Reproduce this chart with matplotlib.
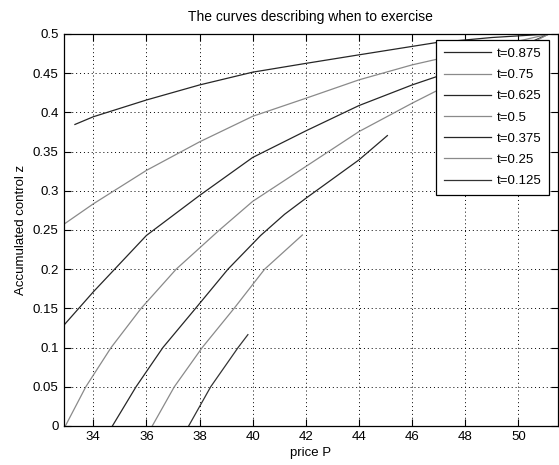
import matplotlib
matplotlib.use("Agg")
from matplotlib import pyplot as plt

# curves (price P, accumulated control z)
p_875 = [33.31, 34, 36, 38, 40, 42, 44, 46.9, 49, 51.15]
z_875 = [0.3846, 0.3944, 0.4158, 0.435, 0.4513, 0.4625, 0.4734, 0.489, 0.4955, 0.5]

p_75 = [32.88, 34, 36, 38, 40, 42, 44, 46, 48, 49.5, 51.15]
z_75 = [0.257, 0.2833, 0.326, 0.3624, 0.395, 0.418, 0.4415, 0.4606, 0.476, 0.487, 0.5]

p_625 = [32.88, 34, 36, 38, 40, 42, 44, 46, 48, 49.5, 51.15]
z_625 = [0.128, 0.171, 0.243, 0.294, 0.3425, 0.3764, 0.4087, 0.435, 0.458, 0.475, 0.5]

p_5 = [32.95, 33.72, 34.67, 35.8, 37.12, 38.75, 40, 42, 44, 46, 48, 49.5, 51.15]
z_5 = [0, 0.05, 0.1, 0.15, 0.2, 0.25, 0.2865, 0.331, 0.3755, 0.4117, 0.446, 0.471, 0.5]

p_375 = [34.72, 35.61, 36.62, 37.85, 39.07, 40.3, 41.2, 42, 44, 45.07]
z_375 = [0, 0.05, 0.1, 0.15, 0.2, 0.243, 0.27, 0.2904, 0.3394, 0.3704]

p_25 = [36.22, 37.05, 38.1, 39.3, 40.45, 41.87]
z_25 = [0, 0.05, 0.1, 0.15, 0.2, 0.2436]

p_125 = [37.59, 38.42, 39.45, 39.82]
z_125 = [0, 0.05, 0.1, 0.1165]

labels = ["t=0.875", "t=0.75", "t=0.625", "t=0.5", "t=0.375", "t=0.25", "t=0.125"]
xs = [p_875, p_75, p_625, p_5, p_375, p_25, p_125]
zs = [z_875, z_75, z_625, z_5, z_375, z_25, z_125]
colors = ["#262626", "#8a8a8a", "#262626", "#8a8a8a", "#262626", "#8a8a8a", "#333333"]

plt.rcParams['font.family'] = ['Liberation Sans', 'DejaVu Sans']
plt.rcParams['font.size'] = 9.5

fig = plt.figure(figsize=(5.59, 4.65), dpi=100)
# right edge of the axes sits at the very edge of the picture
ax = fig.add_axes([0.1136, 0.0839, 0.885, 0.843])

for x, z, lab, c in zip(xs, zs, labels, colors):
    ax.plot(x, z, color=c, lw=0.9, label=lab)

ax.set_xlim(32.88, 51.5)
ax.set_ylim(0, 0.5)
ax.set_xticks([34, 36, 38, 40, 42, 44, 46, 48, 50])
yt = [0, 0.05, 0.1, 0.15, 0.2, 0.25, 0.3, 0.35, 0.4, 0.45, 0.5]
ax.set_yticks(yt)
ax.set_yticklabels(["%g" % v for v in yt])
ax.tick_params(direction='in', top=True, right=True, length=5, width=0.8,
               labelsize=9.5, colors='black')
ax.grid(True, linestyle=(0, (1, 3)), color='black', lw=0.7)
for s in ax.spines.values():
    s.set_linewidth(0.9)

ax.set_xlabel("price P", fontsize=9.5, labelpad=3)
ax.set_ylabel("Accumulated control z", fontsize=9.5, labelpad=4)
ax.set_title("The curves describing when to exercise", fontsize=10, pad=9.5)

leg = ax.legend(loc='upper left', bbox_to_anchor=(0.7527, 0.985), borderaxespad=0,
                fancybox=False, framealpha=1, edgecolor='black', handlelength=3.6,
                labelspacing=0.68, borderpad=0.6, handletextpad=0.4,
                fontsize=9.5)
leg.get_frame().set_linewidth(0.9)

fig.savefig("out.png", dpi=100)
